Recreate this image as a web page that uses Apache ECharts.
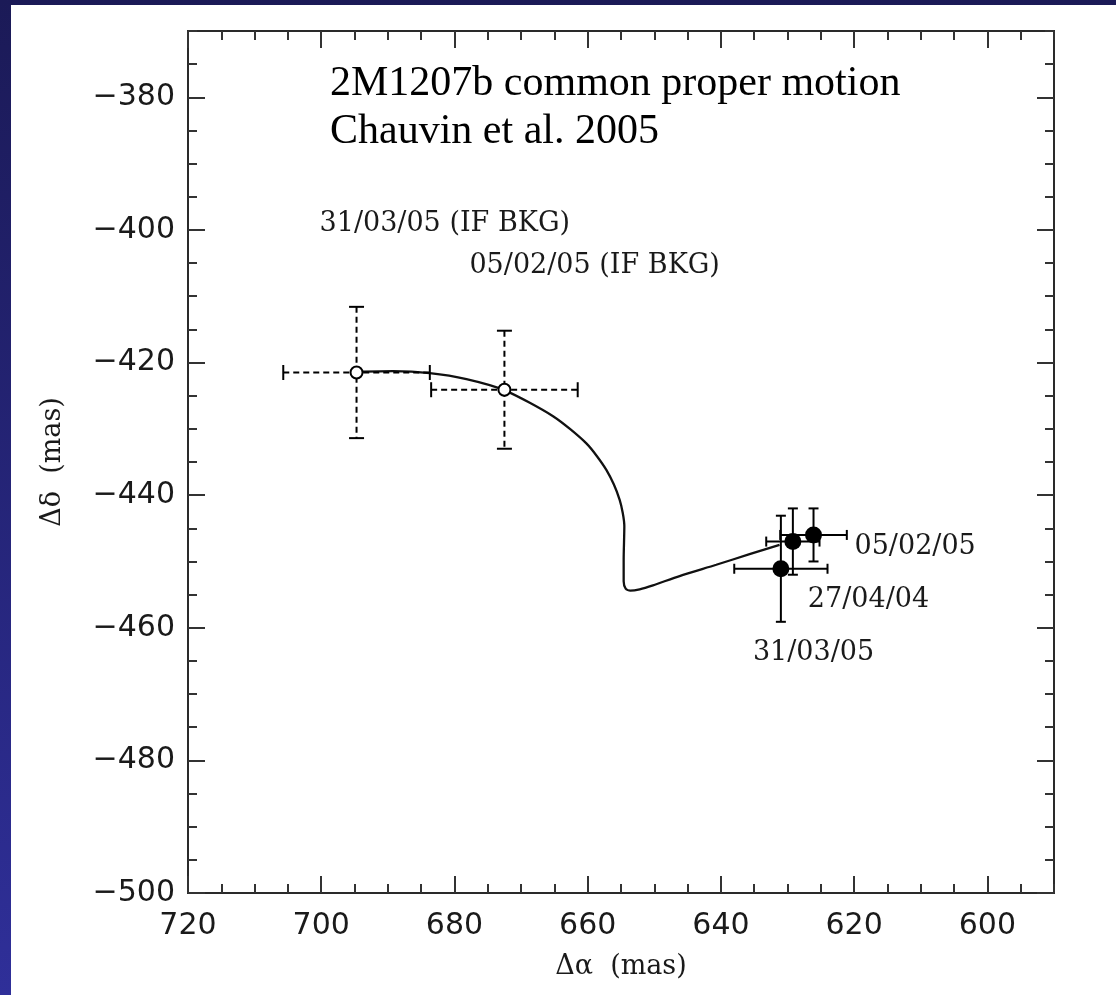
<!DOCTYPE html>
<html>
<head>
<meta charset="utf-8">
<script src="https://cdn.jsdelivr.net/npm/echarts@6/dist/echarts.min.js"></script>
<style>
  html, body { margin: 0; padding: 0; }
  body {
    width: 1116px; height: 995px; overflow: hidden; position: relative;
    background: linear-gradient(#1b1a57, #2f2f99);
  }
  #chart { position: absolute; left: 11px; top: 5px; width: 1105px; height: 990px; background: #fff; }
</style>
</head>
<body>
<div id="chart"></div>
<script>
// predicted background track (solid curve)
const trackX = [694.7, 689.2, 683.7, 678.2, 672.45, 665.2, 660.2, 657.2, 655.2, 654.5, 654.6, 654.6, 654.3, 653.6, 652.2, 650.2, 646.2, 640.7, 635.7, 631.2];
const trackY = [-421.4, -421.3, -421.6, -422.5, -424.2, -428.1, -432.2, -436.2, -440.7, -444.7, -449.8, -453.0, -454.1, -454.4, -454.2, -453.6, -452.2, -450.5, -448.9, -447.5];

// "if background" positions (open circles, dashed error bars)
const bkgLabels = ["31/03/05 (IF BKG)", "05/02/05 (IF BKG)"];
const bkgX = [694.7, 672.5];
const bkgY = [-421.5, -424.1];
const bkgXErr = [11, 11];
const bkgYErr = [9.9, 8.9];

// measured positions (filled circles)
const obsLabels = ["31/03/05", "27/04/04", "05/02/05"];
const obsX = [631.0, 629.2, 626.1];
const obsY = [-451.1, -447.0, -446.0];
const obsXErr = [7, 4, 5];
const obsYErr = [8, 5, 4];

// axis ticks
const xMajor = [720, 700, 680, 660, 640, 620, 600];
const yMajor = [-380, -400, -420, -440, -460, -480, -500];

const ink = "#1a1a1a";
const tickFont = { color: ink, fontSize: 30, fontFamily: "DejaVu Sans" };
const serif = "DejaVu Serif";
const minus = v => String(v).replace("-", "\u2212");

function xAxisDef(pos, major, extra) {
  return Object.assign({
    type: "value", position: pos, min: 590, max: 720, inverse: true,
    splitLine: { show: false },
    axisLine: { onZero: false, lineStyle: { color: "#2a2a2a", width: 2 } },
    axisTick: major
      ? { inside: true, length: 17, customValues: xMajor, lineStyle: { color: "#333", width: 2 } }
      : { inside: true, length: 9, lineStyle: { color: "#333", width: 2 } },
    interval: major ? undefined : 5,
    axisLabel: { show: false }
  }, extra || {});
}
function yAxisDef(pos, major, extra) {
  return Object.assign({
    type: "value", position: pos, min: -500, max: -370,
    splitLine: { show: false },
    axisLine: { onZero: false, lineStyle: { color: "#2a2a2a", width: 2 } },
    axisTick: major
      ? { inside: true, length: 17, customValues: yMajor, lineStyle: { color: "#333", width: 2 } }
      : { inside: true, length: 9, lineStyle: { color: "#333", width: 2 } },
    interval: major ? undefined : 5,
    axisLabel: { show: false }
  }, extra || {});
}

function errorBars(dashed, cap) {
  return function (params, api) {
    const x = api.value(0), y = api.value(1), ex = api.value(2), ey = api.value(3);
    const l = api.coord([x + ex, y]), r = api.coord([x - ex, y]);
    const t = api.coord([x, y + ey]), b = api.coord([x, y - ey]);
    const style = { stroke: "#000", lineWidth: 2, lineDash: dashed ? [6, 4] : null };
    const capStyle = { stroke: "#000", lineWidth: 2 };
    const h = cap / 2;
    const seg = (x1, y1, x2, y2, s) => ({ type: "line", shape: { x1, y1, x2, y2 }, style: s });
    return {
      type: "group",
      children: [
        seg(l[0], l[1], r[0], r[1], style),
        seg(t[0], t[1], b[0], b[1], style),
        seg(l[0], l[1] - h, l[0], l[1] + h, capStyle),
        seg(r[0], r[1] - h, r[0], r[1] + h, capStyle),
        seg(t[0] - h, t[1], t[0] + h, t[1], capStyle),
        seg(b[0] - h, b[1], b[0] + h, b[1], capStyle)
      ]
    };
  };
}

const bkgLabelOffsets = [[-37, -149], [-35, -124]];
const obsLabelOffsets = [[-28, 84], [15, 58], [41, 12]];
const labelStyle = { show: true, position: "inside", align: "left", verticalAlign: "middle",
  color: "#1a1a1a", fontSize: 27, fontFamily: serif };

const chart = echarts.init(document.getElementById("chart"));
chart.setOption({
  animation: false,
  backgroundColor: "#fff",
  grid: { left: 177, top: 26, right: 62, bottom: 102 },
  graphic: [{
    type: "text", left: 319, top: 55,
    style: { text: "2M1207b common proper motion\nChauvin et al. 2005",
      font: '42px "Liberation Serif"', lineHeight: 48, fill: "#000" }
  }],
  xAxis: [
    xAxisDef("bottom", false),
    xAxisDef("bottom", true, {
      name: "\u0394\u03b1  (mas)", nameLocation: "middle", nameGap: 60,
      nameTextStyle: { color: ink, fontSize: 27, fontFamily: serif },
      axisLabel: Object.assign({ show: true, margin: 18, customValues: xMajor }, tickFont)
    }),
    xAxisDef("top", false),
    xAxisDef("top", true)
  ],
  yAxis: [
    yAxisDef("left", false),
    yAxisDef("left", true, {
      name: "\u0394\u03b4  (mas)", nameLocation: "middle", nameGap: 122,
      nameTextStyle: { color: ink, fontSize: 27, fontFamily: serif },
      axisLabel: Object.assign({ show: true, margin: 13, customValues: yMajor, formatter: minus }, tickFont)
    }),
    yAxisDef("right", false),
    yAxisDef("right", true)
  ],
  series: [
    {
      type: "line", data: trackX.map((x, i) => [x, trackY[i]]),
      smooth: 0.25, showSymbol: false, lineStyle: { color: "#111", width: 2.3 }, z: 2
    },
    {
      type: "custom", renderItem: errorBars(true, 15), z: 3,
      data: bkgX.map((x, i) => [x, bkgY[i], bkgXErr[i], bkgYErr[i]])
    },
    {
      type: "custom", renderItem: errorBars(false, 10), z: 3,
      data: obsX.map((x, i) => [x, obsY[i], obsXErr[i], obsYErr[i]])
    },
    {
      type: "scatter", symbol: "circle", symbolSize: 12, z: 4,
      itemStyle: { color: "#fff", borderColor: "#000", borderWidth: 2, opacity: 1 },
      data: bkgX.map((x, i) => ({ value: [x, bkgY[i]], name: bkgLabels[i],
        label: Object.assign({ offset: bkgLabelOffsets[i], formatter: bkgLabels[i] }, labelStyle) }))
    },
    {
      type: "scatter", symbol: "circle", symbolSize: 17, z: 4,
      itemStyle: { color: "#000", opacity: 1 },
      data: obsX.map((x, i) => ({ value: [x, obsY[i]], name: obsLabels[i],
        label: Object.assign({ offset: obsLabelOffsets[i], formatter: obsLabels[i] }, labelStyle) }))
    }
  ]
});
</script>
</body>
</html>
